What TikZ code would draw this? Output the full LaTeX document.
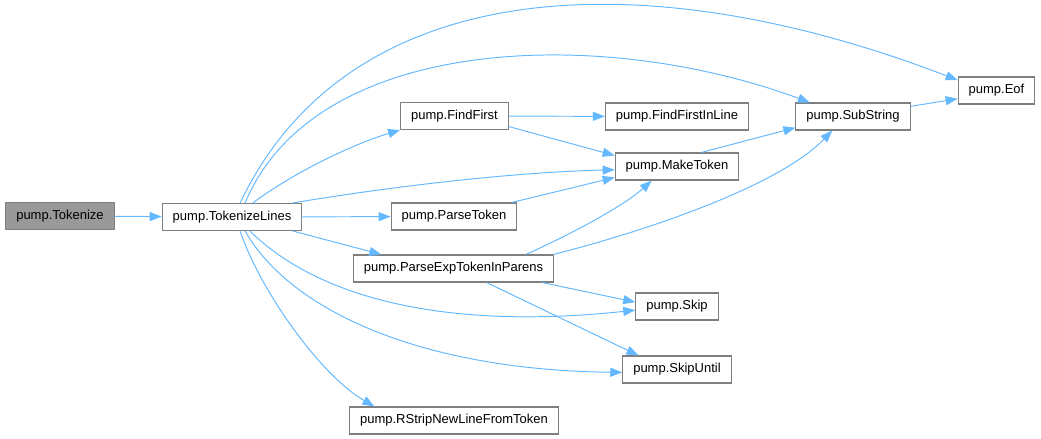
\documentclass[tikz,border=0pt]{standalone}
\usepackage{fontspec}
\setmainfont{Liberation Sans}
\usepackage{tikz}
\usetikzlibrary{arrows.meta}
\definecolor{edgeblue}{HTML}{63B8FF}
\definecolor{boxline}{HTML}{7F7F7F}
\definecolor{boxgray}{HTML}{999999}

\begin{document}
\begin{tikzpicture}[
  x=0.02cm, y=-0.02cm,
  fn/.style={draw=boxline, fill=white, line width=0.6pt, inner xsep=0.21cm, inner ysep=0pt, minimum height=0.54cm, font=\fontsize{7.4}{9}\selectfont},
  cur/.style={fn, fill=boxgray},
  arr/.style={-{Triangle[length=0.24cm,width=0.18cm,fill=edgeblue]}, draw=edgeblue, line width=0.55pt}
]
\useasboundingbox (0,0) rectangle (1041,439);
\node[cur] (tz) at (60,216) {pump.Tokenize};
\node[fn] (tl) at (232,217) {pump.TokenizeLines};
\node[fn] (ff) at (454.5,116) {pump.FindFirst};
\node[fn] (ffl) at (677,116.5) {pump.FindFirstInLine};
\node[fn] (mt) at (677,166.5) {pump.MakeToken};
\node[fn] (ss) at (853,116.5) {pump.SubString};
\node[fn] (eof) at (996.5,90.5) {pump.Eof};
\node[fn] (pt) at (454,216.5) {pump.ParseToken};
\node[fn] (pe) at (453.5,268.5) {pump.ParseExpTokenInParens};
\node[fn] (sk) at (677,306.5) {pump.Skip};
\node[fn] (su) at (677,369.5) {pump.SkipUntil};
\node[fn] (rs) at (454,420.5) {pump.RStripNewLineFromToken};

\draw[arr] (tz) -- (tl);
\draw[arr] (tl.60) .. controls (348,-24) and (640,-42) .. (eof.165);
\draw[arr] (tl.47) .. controls (315,35) and (600,25) .. (ss.162);
\draw[arr] (tl.34) .. controls (290,175) and (350,145) .. (ff.south west);
\draw[arr] (tl.13) .. controls (400,185) and (520,172) .. (mt.183);
\draw[arr] (tl) -- (pt);
\draw[arr] (tl.-13) -- (pe.169);
\draw[arr] (tl.-38) .. controls (320,300) and (450,330) .. (sk.185);
\draw[arr] (tl.-47) .. controls (290,310) and (420,370) .. (su.183);
\draw[arr] (tl.-60) .. controls (260,290) and (320,375) .. (rs.170);
\draw[arr] (ff) -- (ffl);
\draw[arr] (ff.-11) -- (mt.170);
\draw[arr] (mt.30) -- (ss.191);
\draw[arr] (ss.10) -- (eof.192);
\draw[arr] (pt) -- (mt.190);
\draw[arr] (pe.11) .. controls (570,235) and (625,205) .. (mt.209);
\draw[arr] (pe.8) .. controls (650,230) and (780,185) .. (ss.214);
\draw[arr] (pe.-9) -- (sk.174);
\draw[arr] (pe.-23) -- (su.160);
\end{tikzpicture}
\end{document}
